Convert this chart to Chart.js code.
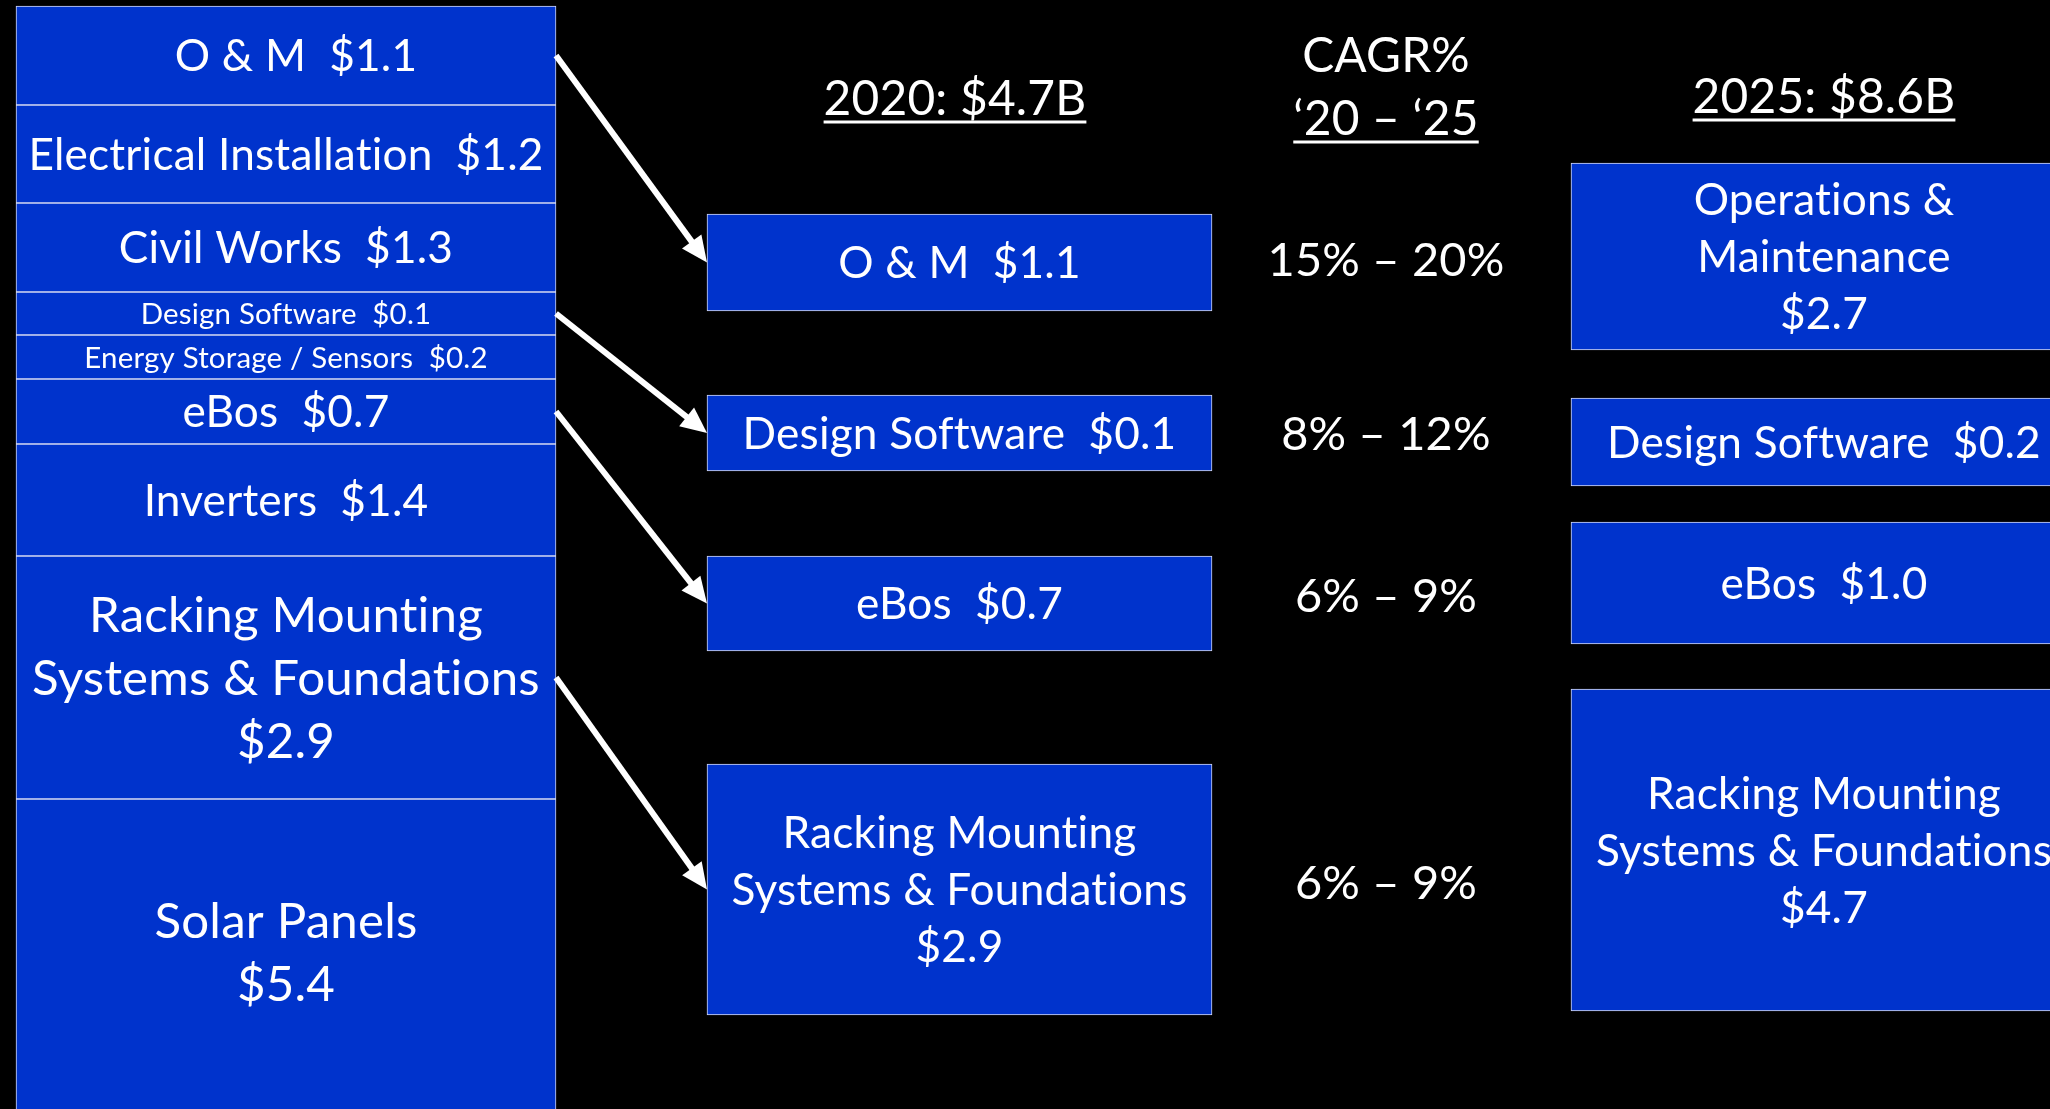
<!DOCTYPE html>
<html><head><meta charset="utf-8">
<script src="https://cdn.jsdelivr.net/npm/chart.js@4.4.1/dist/chart.umd.min.js"></script>
<style>html,body{margin:0;padding:0;background:#000;overflow:hidden}#wrap{width:2050px;height:1109px;position:relative}</style>
</head><body><div id="wrap"><canvas id="c"></canvas></div>
<script>
// ---------------- data ----------------
const segments2020 = ['O & M','Electrical Installation','Civil Works','Design Software','Energy Storage / Sensors','eBos','Inverters','Racking Mounting\nSystems & Foundations','Solar Panels'];
const segmentValues = [1.1, 1.2, 1.3, 0.1, 0.2, 0.7, 1.4, 2.9, 5.4];
const focusSegments = ['O & M','Design Software','eBos','Racking Mounting\nSystems & Foundations'];
const focusValues2020 = [1.1, 0.1, 0.7, 2.9];
const focusSource = [0, 3, 5, 7];
const cagrRanges = ['15% – 20%','8% – 12%','6% – 9%','6% – 9%'];
const segments2025 = ['Operations &\nMaintenance','Design Software','eBos','Racking Mounting\nSystems & Foundations'];
const focusValues2025 = [2.7, 0.2, 1.0, 4.7];
const totalYears = ['2020','2025'];
const totals = [4.7, 8.6];
const cagrTitle = ['CAGR%','‘20 – ‘25'];

// ---------------- layout (slide units = px) ----------------
const LAYOUT = {
  W: 2050, H: 1109,
  left:  {x0: 16, x1: 556, edges: [6,105,203,292,335,379,444,556,799,1130],
          font: [48,48,48,32,32,48,48,53.5,53.5], lh: 63, ownLine: [7,8], cyOverride: {8: 952}, dx: {0: 10}},
  mid:   {x0: 707, x1: 1212, boxes: [[214,311],[395,471],[556,651],[764,1015]], font: 48, lh: 57},
  right: {x0: 1571, x1: 2077, boxes: [[163,350],[398,486],[522,644],[689,1011]], font: 48, lh: 57},
  cagrX: 1386, cagrDy: [-3, 0, -8, -7], cagrFont: 51,
  heads: [{x: 955, y: 115}, {x: 1824, y: 113}],
  cagrHead: {x: 1386, y: [72, 135]},
  headFont: 52
};
const BLUE = '#0033cc', EDGE = '#d4daf2', FONT = 'Lato', FS = 0.92;

function boxData(col, spans) {
  const cx = (col.x0 + col.x1) / 2;
  return spans.map(s => ({x: cx, y: [s[0], s[1]]}));
}
const leftSpans = LAYOUT.left.edges.slice(0, -1).map((e, i) => [e, LAYOUT.left.edges[i + 1]]);

function fmt(v) { return '$' + v.toFixed(1); }
function labelLines(name, v, own) {
  if (name.includes('\n') || own) return name.split('\n').concat([fmt(v)]);
  return [name + '  ' + fmt(v)];
}
function drawLines(ctx, lines, cx, cy, size, lh) {
  const px = size * FS;
  ctx.font = px + 'px ' + FONT;
  const cap = 0.72 * px;
  const first = cy - (lines.length - 1) * lh / 2 + cap / 2;
  lines.forEach((t, i) => ctx.fillText(t, cx, first + i * lh));
}

const labelPlugin = {
  id: 'labels',
  afterDatasetsDraw(chart) {
    const ctx = chart.ctx, xs = chart.scales.x, ys = chart.scales.y;
    ctx.save();
    if ('letterSpacing' in ctx) ctx.letterSpacing = '0.2px';
    ctx.fillStyle = '#fff'; ctx.strokeStyle = '#fff';
    ctx.textAlign = 'center'; ctx.textBaseline = 'alphabetic';
    const m0 = chart.getDatasetMeta(0).data, m1 = chart.getDatasetMeta(1).data, m2 = chart.getDatasetMeta(2).data;
    const mid = el => (el.y + el.base) / 2;
    // left stack labels
    m0.forEach((el, i) => {
      const L = LAYOUT.left;
      const cy = L.cyOverride[i] !== undefined ? ys.getPixelForValue(L.cyOverride[i]) : mid(el);
      drawLines(ctx, labelLines(segments2020[i], segmentValues[i], L.ownLine.includes(i)), el.x + (L.dx[i] || 0), cy, L.font[i], L.lh);
    });
    m1.forEach((el, i) => drawLines(ctx, labelLines(focusSegments[i], focusValues2020[i], false), el.x, mid(el), LAYOUT.mid.font, LAYOUT.mid.lh));
    m2.forEach((el, i) => drawLines(ctx, labelLines(segments2025[i], focusValues2025[i], false), el.x, mid(el), LAYOUT.right.font, LAYOUT.right.lh));
    // CAGR
    m1.forEach((el, i) => drawLines(ctx, [cagrRanges[i]], xs.getPixelForValue(LAYOUT.cagrX), mid(el) + LAYOUT.cagrDy[i], LAYOUT.cagrFont, 0));
    // headers
    const hpx = LAYOUT.headFont * FS;
    ctx.font = hpx + 'px ' + FONT;
    const underline = (t, x, y) => {
      const w = ctx.measureText(t).width;
      ctx.fillText(t, x, y);
      ctx.lineWidth = 3;
      ctx.beginPath(); ctx.moveTo(x - w / 2, y + 7); ctx.lineTo(x + w / 2, y + 7); ctx.stroke();
    };
    LAYOUT.heads.forEach((h, i) => underline(totalYears[i] + ': $' + totals[i].toFixed(1) + 'B', xs.getPixelForValue(h.x), ys.getPixelForValue(h.y)));
    const cx = xs.getPixelForValue(LAYOUT.cagrHead.x);
    ctx.fillText(cagrTitle[0], cx, ys.getPixelForValue(LAYOUT.cagrHead.y[0]));
    underline(cagrTitle[1], cx, ys.getPixelForValue(LAYOUT.cagrHead.y[1]));
    // arrows
    ctx.lineWidth = 6; ctx.lineCap = 'butt';
    focusSource.forEach((src, i) => {
      const a = m0[src], b = m1[i];
      const x1 = a.x + a.width / 2, y1 = mid(a), x2 = b.x - b.width / 2, y2 = mid(b);
      const ang = Math.atan2(y2 - y1, x2 - x1), hl = 26, hw = 12;
      const bx = x2 - hl * Math.cos(ang), by = y2 - hl * Math.sin(ang);
      ctx.beginPath(); ctx.moveTo(x1, y1); ctx.lineTo(bx + 2 * Math.cos(ang), by + 2 * Math.sin(ang)); ctx.stroke();
      ctx.beginPath();
      ctx.moveTo(x2, y2);
      ctx.lineTo(bx + hw * Math.sin(ang), by - hw * Math.cos(ang));
      ctx.lineTo(bx - hw * Math.sin(ang), by + hw * Math.cos(ang));
      ctx.closePath(); ctx.fill();
    });
    ctx.restore();
  }
};

function build() {
  const common = {backgroundColor: BLUE, borderColor: EDGE, borderWidth: 1, borderSkipped: false, grouped: false};
  new Chart(document.getElementById('c'), {
    type: 'bar',
    data: {datasets: [
      Object.assign({label: '2020 market segments', data: boxData(LAYOUT.left, leftSpans), barThickness: LAYOUT.left.x1 - LAYOUT.left.x0}, common),
      Object.assign({label: '2020 focus segments', data: boxData(LAYOUT.mid, LAYOUT.mid.boxes), barThickness: LAYOUT.mid.x1 - LAYOUT.mid.x0}, common),
      Object.assign({label: '2025 focus segments', data: boxData(LAYOUT.right, LAYOUT.right.boxes), barThickness: LAYOUT.right.x1 - LAYOUT.right.x0}, common)
    ]},
    options: {
      responsive: true, maintainAspectRatio: false, devicePixelRatio: 1, animation: false,
      layout: {padding: 0},
      plugins: {legend: {display: false}, tooltip: {enabled: false}},
      scales: {
        x: {type: 'linear', min: 0, max: LAYOUT.W, offset: false, display: false},
        y: {type: 'linear', min: 0, max: LAYOUT.H, reverse: true, display: false}
      }
    },
    plugins: [labelPlugin]
  });
}
if (document.fonts && document.fonts.load) {
  document.fonts.load('48px Lato').then(build, build);
} else build();
</script></body></html>
